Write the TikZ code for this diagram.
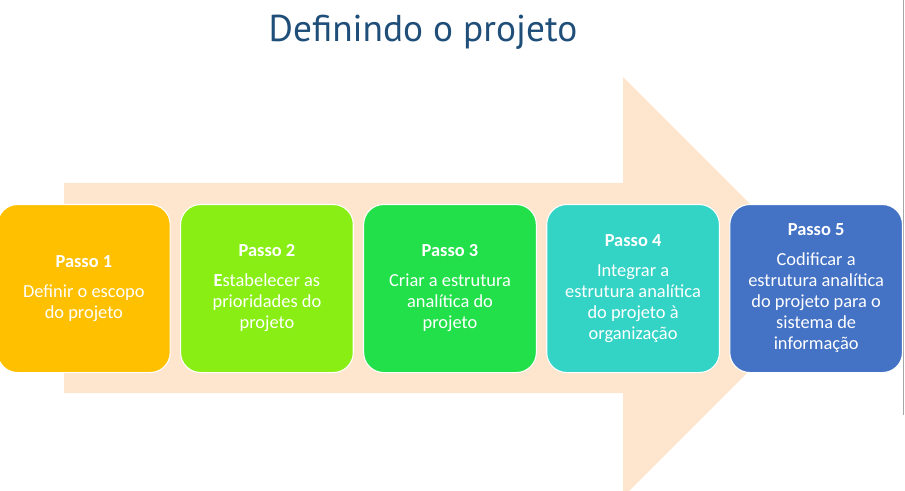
\documentclass[tikz,border=0pt]{standalone}
\usepackage{fontspec}
\setmainfont{Carlito}
\newfontfamily\titlefont{PT Sans}
\usetikzlibrary{positioning}

\definecolor{seta}{HTML}{FDE6CD}
\definecolor{titulo}{HTML}{1F4E79}
\definecolor{cor1}{HTML}{FFC000}
\definecolor{cor2}{HTML}{88EE14}
\definecolor{cor3}{HTML}{22E04A}
\definecolor{cor4}{HTML}{33D3C6}
\definecolor{cor5}{HTML}{4472C4}

\tikzset{passo/.style={rectangle, rounded corners=15pt, draw=white, line width=0.8pt,
    minimum width=129.5pt, minimum height=126pt, align=center, text=white,
    font=\fontsize{13.8}{15.75}\selectfont}}

\begin{document}
\begin{tikzpicture}[x=0.75pt, y=-0.75pt, node distance=7pt]
  \useasboundingbox (0,0) rectangle (905,491);
  \clip (0,0) rectangle (905,491);
  % seta de fundo
  \fill[seta] (64,183) -- (623,183) -- (623,77) -- (833,287) -- (623,497) -- (623,393) -- (64,393) -- cycle;
  \draw[gray!70, line width=0.6pt] (903.5,0) -- (903.5,415);
  \node[anchor=base, text=titulo, font=\titlefont\fontsize{28}{32}\selectfont] (titulo) at (423,42) {Definindo o projeto};
  % passos
  \node[passo, fill=cor1, anchor=north west] (passo1) at (-3,204) {\textbf{Passo 1}\\[6.75pt]Definir o escopo\\do projeto};
  \node[passo, fill=cor2, right=of passo1] (passo2) {\textbf{Passo 2}\\[6.75pt]\textbf{E}stabelecer as\\prioridades do\\projeto};
  \node[passo, fill=cor3, right=of passo2] (passo3) {\textbf{Passo 3}\\[6.75pt]Criar a estrutura\\analítica do\\projeto};
  \node[passo, fill=cor4, right=of passo3] (passo4) {\textbf{Passo 4}\\[6.75pt]Integrar a\\estrutura analítica\\do projeto à\\organização};
  \node[passo, fill=cor5, right=of passo4] (passo5) {\textbf{Passo 5}\\[6.75pt]Codificar a\\estrutura analítica\\do projeto para o\\sistema de\\informação};
\end{tikzpicture}
\end{document}
